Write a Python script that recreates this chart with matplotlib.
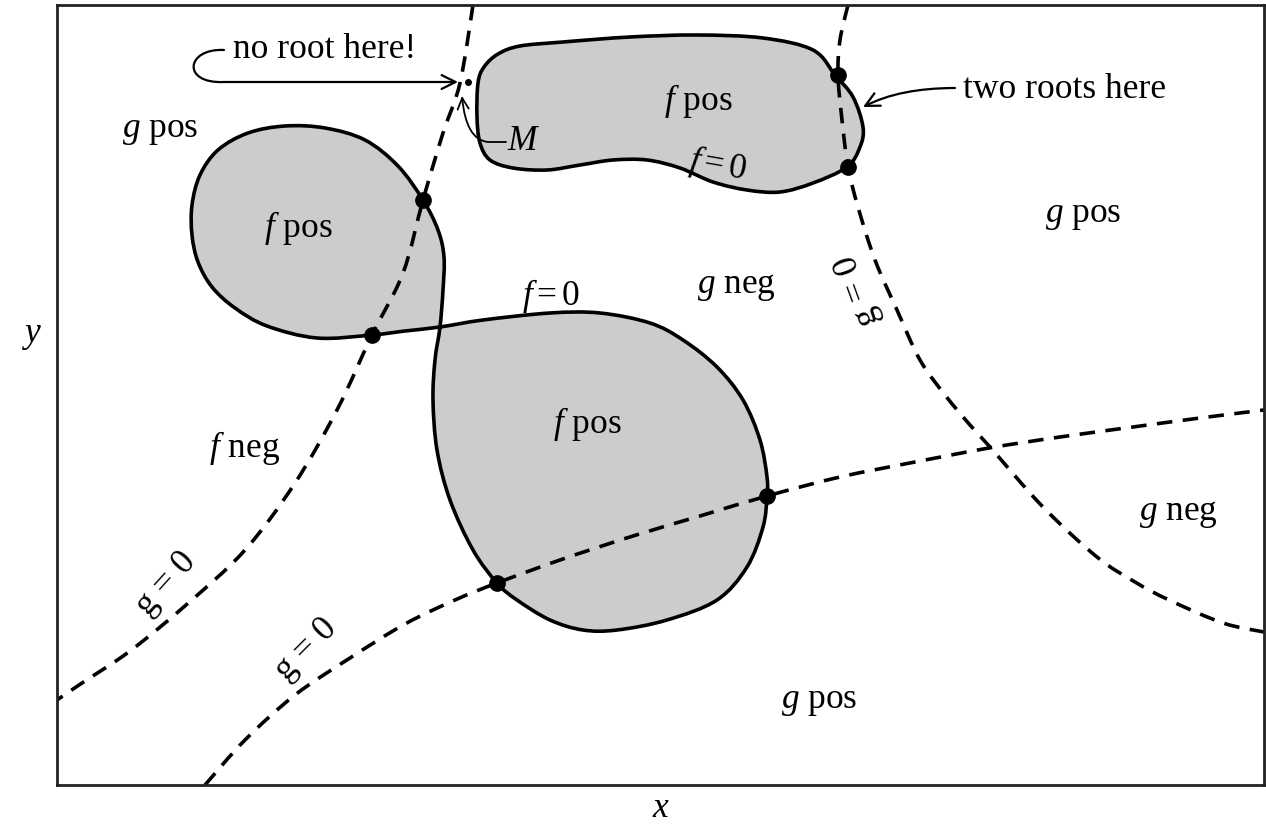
import numpy as np
import matplotlib
matplotlib.use("Agg")
import matplotlib.pyplot as plt
from matplotlib.path import Path
from matplotlib.patches import PathPatch, FancyArrowPatch

# picture coordinates (pixels, y downwards)
frame_x = [57, 1264]
frame_y = [5, 785]

# f = 0 : top blob (closed)
blob_top = [(478, 83), (484, 67), (498, 54), (520, 46), (563, 42), (630, 37), (697, 35),
            (763, 38), (813, 50), (835, 75), (853, 97), (863, 127), (860, 147), (847, 167),
            (813, 183), (780, 192), (747, 190), (713, 182), (680, 168), (647, 160), (613, 160),
            (580, 165), (547, 170), (513, 168), (490, 160), (480, 143), (477, 117)]

# f = 0 : figure-eight (lower lobe, then left lobe), crossing at (440, 327)
blob_eight = [(440, 327), (483, 320), (550, 313), (600, 313), (650, 323), (683, 340), (717, 367),
              (743, 400), (760, 440), (767, 477), (767, 497), (763, 527), (747, 567), (717, 600),
              (667, 620), (617, 630), (583, 630), (550, 620), (517, 600), (497, 583), (473, 550),
              (450, 500), (437, 450), (433, 400), (435, 360), (440, 327), (443, 290), (444, 257),
              (438, 230), (423, 200), (398, 166), (365, 140), (325, 128), (285, 126), (248, 133),
              (218, 150), (200, 175), (192, 205), (192, 235), (198, 262), (212, 287), (235, 308),
              (267, 326), (317, 338), (372, 335), (405, 331)]

# g = 0 curves
g_left = [(473, 5), (460, 83), (443, 133), (423, 200), (403, 273), (372, 335), (337, 410),
          (295, 483), (245, 550), (186, 605), (130, 651), (82, 683), (57, 700)]
g_right = [(848, 5), (840, 40), (838, 75), (842, 120), (848, 167), (858, 207), (875, 260),
           (897, 310), (920, 360), (945, 395), (970, 425), (990, 447), (1043, 507),
           (1097, 557), (1135, 582), (1169, 600), (1223, 623), (1264, 632)]
g_low = [(205, 785), (245, 740), (295, 695), (350, 658), (405, 624), (455, 600), (497, 583),
         (560, 560), (633, 536), (700, 516), (767, 496), (840, 477), (915, 462), (989, 448),
         (1060, 437), (1133, 427), (1200, 418), (1264, 410)]

roots_x = [423, 372, 497, 767, 838, 848]
roots_y = [200, 335, 583, 496, 75, 167]
point_M = (468, 82)

labels = [
    ("no root here!", 233, 58, "left"),
    ("$g$ pos", 160, 137, "center"),
    ("$f$ pos", 698, 110, "center"),
    ("$M$", 507, 150, "left"),
    ("$f$ pos", 298, 237, "center"),
    ("$f = 0$", 551, 305, "center"),
    ("$g$ neg", 736, 293, "center"),
    ("$g$ pos", 1083, 222, "center"),
    ("two roots here", 963, 98, "left"),
    ("$f$ pos", 587, 433, "center"),
    ("$f$ neg", 245, 457, "center"),
    ("$g$ neg", 1178, 520, "center"),
    ("$g$ pos", 819, 708, "center"),
]
rotated_labels = [
    ("$f = 0$", 718, 165, -10),
    ("g = 0", 858, 290, 110),
    ("g = 0", 166, 584, 48),
    ("g = 0", 306, 649, 45),
]

# annotation arrows
hook_verts = [(224, 50), (186, 48), (181, 84), (224, 82), (458, 82)]
m_leader = [(506, 142), (488, 142), (466, 140), (462, 96)]
two_roots_arrow = [(955, 88), (900, 88), (863, 107)]


def smooth_path(pts, closed=False):
    p = np.asarray(pts, float)
    if closed:
        ext = np.vstack([p[-1], p, p[0], p[1]])
    else:
        ext = np.vstack([p[0], p, p[-1]])
    verts = [ext[1]]
    codes = [Path.MOVETO]
    for i in range(1, len(ext) - 2):
        p0, p1, p2, p3 = ext[i - 1], ext[i], ext[i + 1], ext[i + 2]
        verts += [p1 + (p2 - p0) / 6, p2 - (p3 - p1) / 6, p2]
        codes += [Path.CURVE4] * 3
    if closed:
        verts.append(ext[1])
        codes.append(Path.CLOSEPOLY)
    return Path(verts, codes)


plt.rcParams["font.family"] = ["Liberation Serif", "DejaVu Serif"]
plt.rcParams["mathtext.fontset"] = "custom"
plt.rcParams["mathtext.rm"] = "Liberation Serif"
plt.rcParams["mathtext.it"] = "Liberation Serif:italic"

fig = plt.figure(figsize=(12.66, 8.27), dpi=100)
W, H = 1266, 827
ax = fig.add_axes([frame_x[0] / W, (H - frame_y[1]) / H,
                   (frame_x[1] - frame_x[0]) / W, (frame_y[1] - frame_y[0]) / H])
ax.set_xlim(frame_x)
ax.set_ylim(frame_y[1], frame_y[0])
ax.set_xticks([])
ax.set_yticks([])
for s in ax.spines.values():
    s.set_linewidth(2)
    s.set_color("#222222")

gray = "#cccccc"
lw = 2.6
for blob in (blob_top, blob_eight):
    ax.add_patch(PathPatch(smooth_path(blob, closed=True), facecolor=gray, edgecolor="none", zorder=1))

dash = (0, (4.3, 2.9))
for g in (g_left, g_right, g_low):
    ax.add_patch(PathPatch(smooth_path(g), fill=False, edgecolor="black", lw=lw,
                           linestyle=dash, capstyle="butt", zorder=2))

for blob in (blob_top, blob_eight):
    ax.add_patch(PathPatch(smooth_path(blob, closed=True), fill=False, edgecolor="black",
                           lw=lw, zorder=3))

ax.plot(roots_x, roots_y, "o", color="black", ms=11, zorder=4)
ax.plot([point_M[0]], [point_M[1]], "o", color="black", ms=4, zorder=4)

fs = 25.5
for txt, x, y, ha in labels:
    ax.text(x, y, txt, fontsize=fs, ha=ha, va="baseline", zorder=5)
for txt, x, y, rot in rotated_labels:
    ax.text(x, y, txt, fontsize=fs, ha="center", va="center", rotation=rot,
            rotation_mode="anchor", zorder=5)

ax.text(660, 817, "x", fontsize=fs, fontstyle="italic", ha="center", va="baseline", clip_on=False)
ax.text(32, 335, "$y$", fontsize=fs, ha="center", va="center", clip_on=False)

# arrows
hook = Path(hook_verts, [Path.MOVETO, Path.CURVE4, Path.CURVE4, Path.CURVE4, Path.LINETO])
ax.add_patch(FancyArrowPatch(path=hook, arrowstyle="->,head_length=0.5,head_width=0.25",
                             mutation_scale=20, lw=1.6, color="black", zorder=5))
mpath = Path(m_leader, [Path.MOVETO, Path.LINETO, Path.CURVE3, Path.CURVE3])
ax.add_patch(FancyArrowPatch(path=mpath, arrowstyle="->,head_length=0.4,head_width=0.2",
                             mutation_scale=20, lw=1.3, color="black", zorder=5))
tpath = Path(two_roots_arrow, [Path.MOVETO, Path.CURVE3, Path.CURVE3])
ax.add_patch(FancyArrowPatch(path=tpath, arrowstyle="->,head_length=0.5,head_width=0.25",
                             mutation_scale=20, lw=1.6, color="black", zorder=5))

fig.savefig("out.png", dpi=100)
